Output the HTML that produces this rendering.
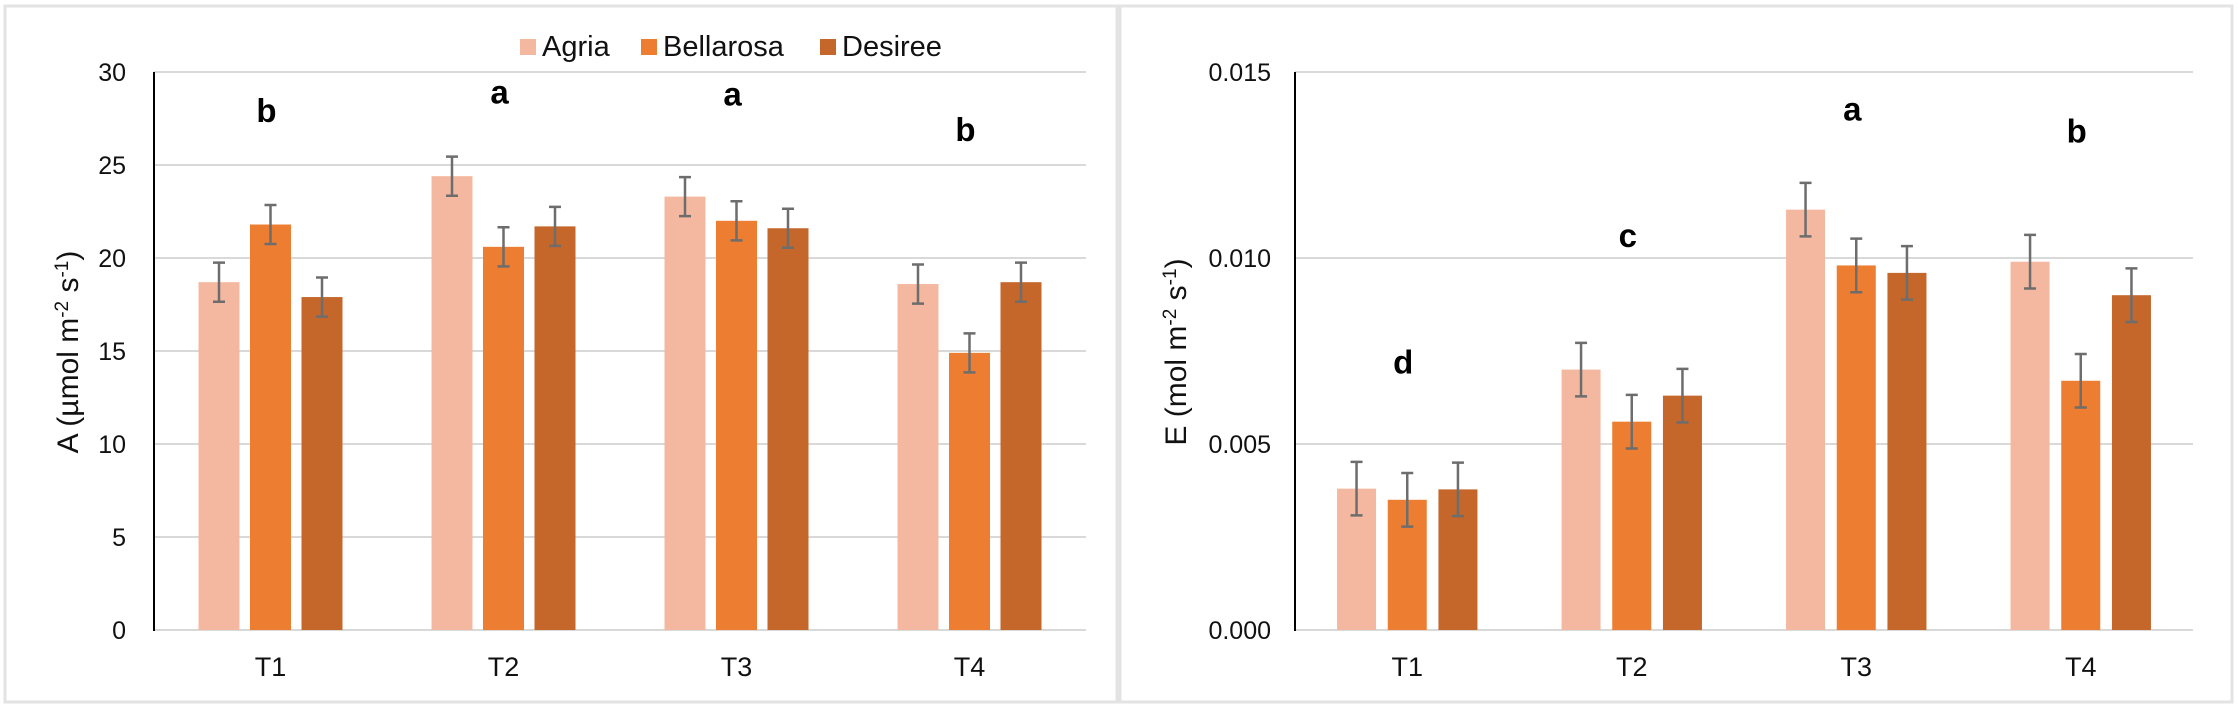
<!DOCTYPE html>
<html><head><meta charset="utf-8"><style>
html,body{margin:0;padding:0;background:#fff;}
svg{display:block;font-family:"Liberation Sans",Arial,sans-serif;}
</style></head><body>
<svg id="chart" width="2238" height="713" viewBox="0 0 2238 713" xmlns="http://www.w3.org/2000/svg">
<rect x="0" y="0" width="2238" height="713" fill="#fff"/>
<rect x="5" y="6" width="1112" height="696" fill="none" stroke="#e3e3e3" stroke-width="3"/>
<rect x="1120" y="6" width="1112" height="696" fill="none" stroke="#e3e3e3" stroke-width="3"/>
<g id="g"></g>
</svg>
<script>
const categories = ["T1","T2","T3","T4"];
const seriesNames = ["Agria","Bellarosa","Desiree"];
const colors = ["#f4b8a0","#ed7d31","#c5662a"];
const aAgria = [18.7, 24.4, 23.3, 18.6];
const aBellarosa = [21.8, 20.6, 22.0, 14.9];
const aDesiree = [17.9, 21.7, 21.6, 18.7];
const aErr = [1.05, 1.05, 1.05, 1.05];
const aLetters = ["b","a","a","b"];
const aLetterVals = [27.3, 28.3, 28.2, 26.3];
const aTicks = [0,5,10,15,20,25,30];
const eAgria = [0.0038, 0.0070, 0.0113, 0.0099];
const eBellarosa = [0.0035, 0.0056, 0.0098, 0.0067];
const eDesiree = [0.00378, 0.0063, 0.0096, 0.0090];
const eErr = [0.00072, 0.00072, 0.00072, 0.00072];
const eLetters = ["d","c","a","b"];
const eLetterVals = [0.0069, 0.0103, 0.0137, 0.0131];
const eTicks = [0, 0.005, 0.010, 0.015];

const NS="http://www.w3.org/2000/svg";
const root=document.getElementById('g');
function mk(tag,attrs,parent){const e=document.createElementNS(NS,tag);for(const k in attrs)e.setAttribute(k,attrs[k]);(parent||root).appendChild(e);return e;}

function drawChart(cfg){
  const {x0,x1,y0,y1,max,series,err,letters,letterVals,ticks,fmt,title,titleX,name,tickRight,barW,pitch}=cfg;
  const g=mk('g',{});
  
  
  const ys=v=>y0-(v/max)*(y0-y1);
  const band=(x1-x0)/categories.length;
  const xc=i=>x0+band*(i+0.5);
  ticks.forEach(t=>{
    const y=ys(t);
    if(t>0){const l=mk('line',{x1:x0,x2:x1,y1:y,y2:y,stroke:'#d9d9d9','stroke-width':2},g);
      
      }
    const tx=mk('text',{x:tickRight,y:y+9,'text-anchor':'end','font-size':25,fill:'#111'},g);
    tx.textContent=fmt(t);
    
    
  });
  const base=mk('line',{x1:x0,x2:x1,y1:y0,y2:y0,stroke:'#d9d9d9','stroke-width':2},g);
  
  
  const ax=mk('line',{x1:x0,x2:x0,y1:y1,y2:y0+1,stroke:'#000','stroke-width':2},g);
  
  
  categories.forEach((c,i)=>{
    series.forEach((s,j)=>{
      const cx=xc(i)+(j-1)*pitch;
      const v=s[i];
      const r=mk('rect',{x:cx-barW/2,y:ys(v),width:barW,height:y0-ys(v),fill:colors[j]},g);
      
      
      const e=err[i];
      const eb=mk('path',{d:`M${cx},${ys(v+e)}V${ys(v-e)}M${cx-6},${ys(v+e)}H${cx+6}M${cx-6},${ys(v-e)}H${cx+6}`,stroke:'#6d6d6d','stroke-width':2.5,fill:'none'},g);
      
      
    });
    const lb=mk('text',{x:xc(i),y:y0+46,'text-anchor':'middle','font-size':27,fill:'#111'},g);
    lb.textContent=c;
    
    
    const lt=mk('text',{x:xc(i)-4,y:ys(letterVals[i]),'text-anchor':'middle','font-size':33,'font-weight':'bold',fill:'#000'},g);
    lt.textContent=letters[i];
    
    
  });
  const tt=mk('text',{x:0,y:0,'text-anchor':'middle','font-size':30,fill:'#111',transform:`translate(${titleX},352) rotate(-90)`},g);
  tt.innerHTML=title;
  
  
}

drawChart({x0:154,x1:1086,y0:630,y1:72,max:30,series:[aAgria,aBellarosa,aDesiree],err:aErr,letters:aLetters,letterVals:aLetterVals,ticks:aTicks,fmt:t=>String(t),
  title:'A (µmol m<tspan dy="-10" font-size="19">-2</tspan><tspan dy="10"> s</tspan><tspan dy="-10" font-size="19">-1</tspan><tspan dy="10">)</tspan>',titleX:78,name:'photosynthesis-chart',tickRight:126,barW:41,pitch:51.5});
drawChart({x0:1295,x1:2193,y0:630,y1:72,max:0.015,series:[eAgria,eBellarosa,eDesiree],err:eErr,letters:eLetters,letterVals:eLetterVals,ticks:eTicks,fmt:t=>t.toFixed(3),
  title:'E (mol m<tspan dy="-10" font-size="19">-2</tspan><tspan dy="10"> s</tspan><tspan dy="-10" font-size="19">-1</tspan><tspan dy="10">)</tspan>',titleX:1186,name:'transpiration-chart',tickRight:1271,barW:39,pitch:50.7});

// legend
const legX=[520,641,820];
seriesNames.forEach((n,j)=>{
  const lg=mk('g',{});
  
  
  mk('rect',{x:legX[j],y:39,width:16,height:16,fill:colors[j]},lg);
  const t=mk('text',{x:legX[j]+22,y:56,'font-size':29,fill:'#111'},lg);
  t.textContent=n;
});
</script>
</body></html>
